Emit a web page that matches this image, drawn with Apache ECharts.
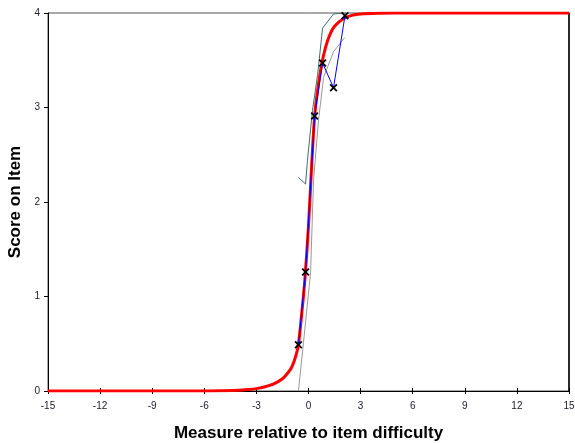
<!DOCTYPE html>
<html>
<head>
<meta charset="utf-8">
<title>Score on Item</title>
<script src="https://cdn.jsdelivr.net/npm/echarts@6/dist/echarts.min.js"></script>
<style>
  html, body { margin: 0; padding: 0; background: #fff; }
  #chart { width: 575px; height: 443px; }
</style>
</head>
<body>
<div id="chart"></div>
<script>
// expected score curve (red)
var modelCurve = [
  [-15, 0], [-6, 0], [-5, 0.003], [-4, 0.008], [-3.5, 0.015], [-3, 0.025],
  [-2.5, 0.045], [-2, 0.075], [-1.5, 0.13], [-1.2, 0.19], [-1, 0.24],
  [-0.8, 0.33], [-0.6, 0.47], [-0.4, 0.8], [-0.2, 1.2], [0, 1.75],
  [0.2, 2.45], [0.35, 2.9], [0.5, 3.15], [0.75, 3.45], [1, 3.65],
  [1.25, 3.78], [1.5, 3.86], [2, 3.94], [2.5, 3.975], [3, 3.99],
  [4, 3.998], [5, 4], [15, 4]
];
// observed averages (x markers, blue line)
var observed = [
  [-0.58, 0.49], [-0.17, 1.26], [0.35, 2.91], [0.81, 3.47], [1.44, 3.21], [2.1, 3.97]
];
// upper confidence line (dark teal)
var upperBand = [
  [-0.58, 2.26], [-0.17, 2.19], [-0.06, 2.44], [0.23, 2.97], [0.52, 3.34],
  [0.81, 3.84], [1.44, 3.99], [2.13, 4]
];
// lower confidence line (grey)
var lowerBand = [
  [-0.58, 0], [-0.29, 0.51], [0.12, 1.25], [0.29, 2.23], [0.58, 2.87],
  [0.87, 3.32], [1.44, 3.59], [2.08, 3.74]
];
var xTicks = { min: -15, max: 15, step: 3 };
var yTicks = { min: 0, max: 4, step: 1 };

var chart = echarts.init(document.getElementById('chart'));
var labelStyle = { color: '#1a1a2a', fontSize: 10, fontFamily: 'Liberation Sans, Arial' };
var xSymbol = 'path://M0,1.6L1.6,0L5,3.4L8.4,0L10,1.6L6.6,5L10,8.4L8.4,10L5,6.6L1.6,10L0,8.4L3.4,5Z';

var option = {
  animation: false,
  backgroundColor: '#fff',
  grid: {
    left: 48, right: 6, top: 13, bottom: 52,
    outerBoundsMode: 'none', containLabel: false,
    show: true, borderColor: '#555', borderWidth: 1
  },
  xAxis: [{
    type: 'value', min: xTicks.min, max: xTicks.max, interval: xTicks.step,
    name: 'Measure relative to item difficulty',
    nameLocation: 'middle', nameGap: 34,
    nameTextStyle: { fontFamily: 'Liberation Sans, Arial', fontWeight: 'bold', fontSize: 17, color: '#000' },
    axisLine: { onZero: false, lineStyle: { color: '#000' } },
    axisTick: { length: 3, lineStyle: { color: '#000' } },
    axisLabel: Object.assign({ margin: 10 }, labelStyle),
    splitLine: { show: false }
  }, {
    type: 'value', min: xTicks.min, max: xTicks.max, interval: xTicks.step,
    position: 'bottom',
    axisLine: { show: false, onZero: false },
    axisTick: { inside: true, length: 3, lineStyle: { color: '#000' } },
    axisLabel: { show: false },
    splitLine: { show: false }
  }],
  yAxis: [{
    type: 'value', min: yTicks.min, max: yTicks.max, interval: yTicks.step,
    name: 'Score on Item',
    nameLocation: 'middle', nameGap: 22,
    nameTextStyle: { fontFamily: 'Liberation Sans, Arial', fontWeight: 'bold', fontSize: 17, color: '#000' },
    axisLine: { show: true, onZero: false, lineStyle: { color: '#000' } },
    axisTick: { show: true, length: 4, lineStyle: { color: '#000' } },
    axisLabel: Object.assign({ margin: 8 }, labelStyle),
    splitLine: { show: false }
  }, {
    type: 'value', min: yTicks.min, max: yTicks.max, interval: yTicks.step,
    position: 'right',
    axisLine: { show: true, onZero: false, lineStyle: { color: '#000', width: 1.5 } },
    axisTick: { show: false },
    axisLabel: { show: false },
    splitLine: { show: false }
  }],
  series: [
    {
      name: 'lower', type: 'line', data: lowerBand, showSymbol: false,
      lineStyle: { color: '#999', width: 1 }, z: 2
    },
    {
      name: 'upper', type: 'line', data: upperBand, showSymbol: false,
      lineStyle: { color: '#3d7070', width: 1 }, z: 2
    },
    {
      name: 'model', type: 'line', data: modelCurve, showSymbol: false, smooth: 0.3,
      lineStyle: { color: '#ff0000', width: 3 }, z: 3
    },
    {
      name: 'observed', type: 'line', data: observed,
      symbol: xSymbol, symbolSize: 8,
      itemStyle: { color: '#000' },
      lineStyle: { color: '#0000ff', width: 1 }, z: 4
    }
  ]
};
chart.setOption(option);
</script>
</body>
</html>
